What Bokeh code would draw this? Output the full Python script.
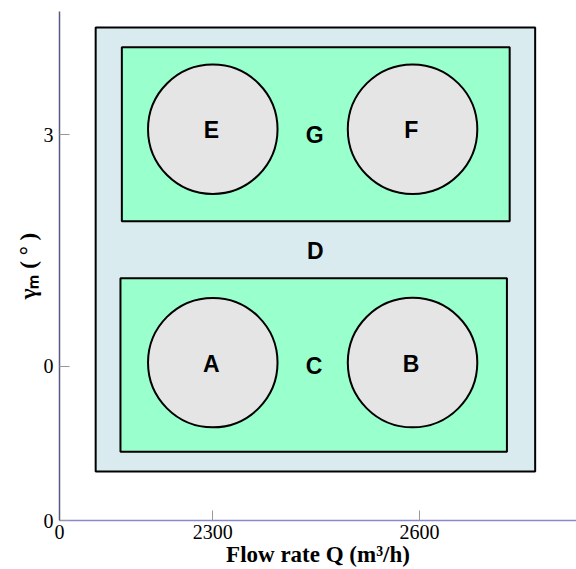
from bokeh.plotting import figure
from bokeh.models import Range1d, FixedTicker
from bokeh.core.properties import value
from bokeh.embed import file_html
from bokeh.resources import INLINE

# Region rectangles (data units): left, right, bottom, top
outer_rect = dict(left=[2130], right=[2768], bottom=[-1.36], top=[4.387])
green_left = [2168, 2166]
green_right = [2731, 2727]
green_bottom = [1.878, -1.105]
green_top = [4.132, 1.141]

# Circles
circle_x = [2300, 2590, 2300, 2590]
circle_y = [3.07, 3.07, 0.05, 0.05]
circle_r = [94, 94, 94, 94]

# Region labels
label_text = ["E", "F", "G", "D", "A", "B", "C"]
label_x = [2298, 2588, 2448, 2449, 2298, 2588, 2447]
label_y = [3.06, 3.06, 3.0, 1.494, 0.035, 0.035, 0.0]

x_start, x_end = 2077.5, 2828
y_start, y_end = -1.993, 4.593
x_ticks = [x_start, 2300, 2600]
y_ticks = [y_start, 0, 3]

p = figure(width=576, height=569, output_backend="svg", toolbar_location=None,
           x_range=Range1d(x_start, x_end), y_range=Range1d(y_start, y_end),
           min_border_left=59, min_border_right=0, min_border_top=11, min_border_bottom=48)
p.outline_line_color = None
p.xgrid.visible = False
p.ygrid.visible = False
p.background_fill_color = "white"

p.quad(left=outer_rect["left"], right=outer_rect["right"], bottom=outer_rect["bottom"],
       top=outer_rect["top"], fill_color="#d9ebee", line_color="black", line_width=2)
p.quad(left=green_left, right=green_right, bottom=green_bottom, top=green_top,
       fill_color="#99ffcc", line_color="black", line_width=2)
p.circle(x=circle_x, y=circle_y, radius=circle_r, radius_dimension="x",
         fill_color="#e5e5e5", line_color="black", line_width=2)
p.text(x=label_x, y=label_y, text=label_text, text_font=value("Liberation Sans"),
       text_font_style="bold", text_font_size="23px", text_align="center",
       text_baseline="middle", text_color="black")

for ax, ticks in ((p.xaxis, x_ticks), (p.yaxis, y_ticks)):
    ax.ticker = FixedTicker(ticks=ticks)
    ax.minor_tick_line_color = None
    ax.major_tick_in = 10
    ax.major_tick_out = 0
    ax.major_tick_line_color = "#999999"
    ax.major_label_text_font = "Liberation Serif"
    ax.major_label_text_font_size = "20px"
    ax.major_label_text_color = "black"
    ax.axis_label_text_font = "Liberation Serif"
    ax.axis_label_text_font_style = "bold"
    ax.axis_label_text_font_size = "23px"
    ax.axis_label_text_color = "black"
    ax.axis_line_width = 1.5

p.xaxis.major_label_overrides = {x_start: "0"}
p.yaxis.major_label_overrides = {y_start: "0"}
p.xaxis.axis_line_color = "#8888cc"
p.yaxis.axis_line_color = "#5a5a80"
p.xaxis.axis_label = "Flow rate Q (m³/h)"
p.yaxis.axis_label = "γₘ ( ° )"
p.xaxis.major_label_standoff = 4
p.xaxis.axis_label_standoff = 0
p.yaxis.major_label_standoff = 6
p.yaxis.axis_label_standoff = 0

open("out.html", "w").write(file_html(p, INLINE))
